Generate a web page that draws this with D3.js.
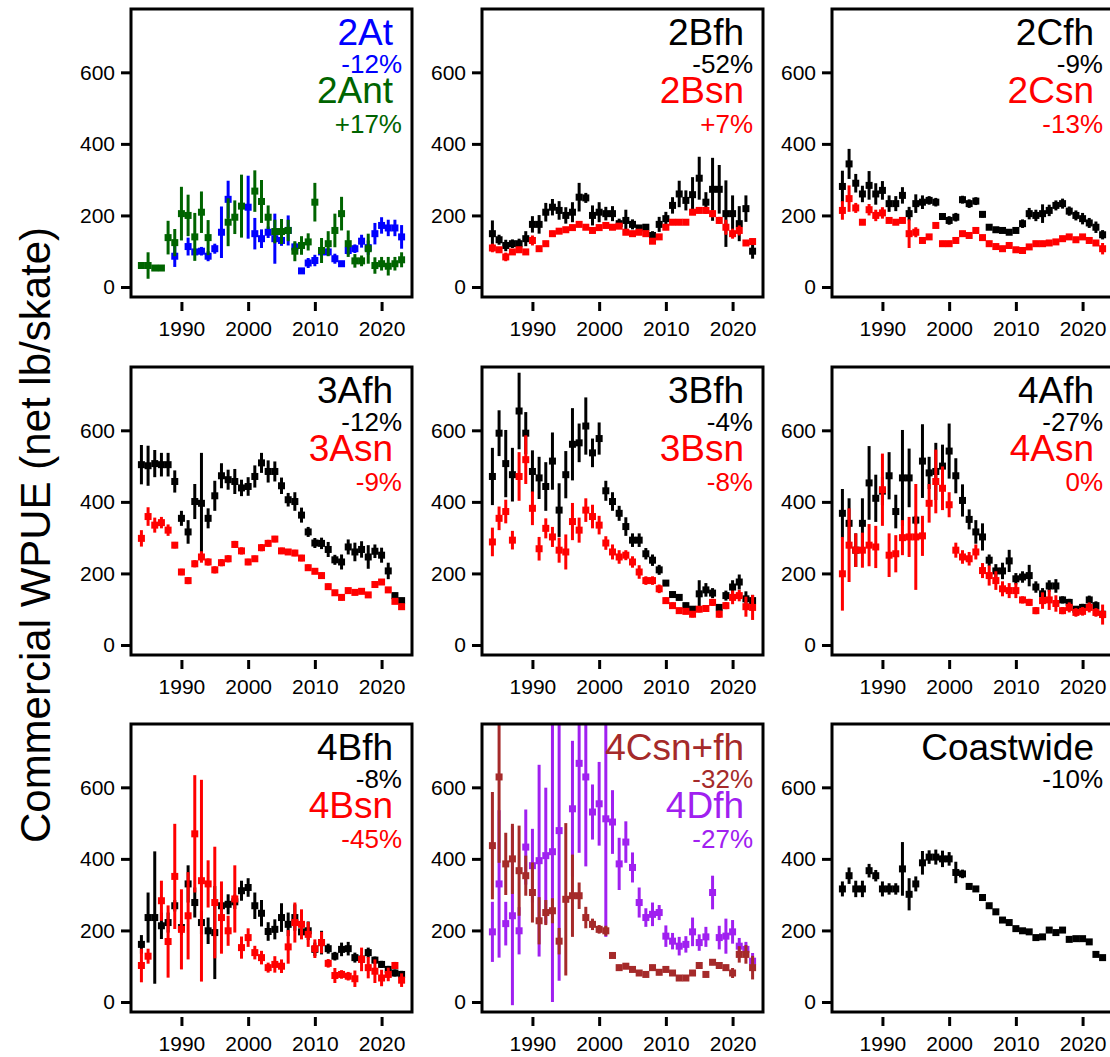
<!DOCTYPE html>
<html>
<head>
<meta charset="utf-8">
<script src="https://cdn.jsdelivr.net/npm/d3@7"></script>
<style>
  body { margin: 0; background: #fff; }
  text { font-family: "Liberation Sans", Arial, sans-serif; }
</style>
</head>
<body>
<script>
// Years on the x axis
const years = [1984,1985,1986,1987,1988,1989,1990,1991,1992,1993,1994,1995,1996,1997,1998,1999,
    2000,2001,2002,2003,2004,2005,2006,2007,2008,2009,2010,2011,2012,2013,2014,2015,2016,2017,2018,2019,
    2020,2021,2022,2023];

// WPUE index (net lb/skate) and half width of the interval
const wpue2At = [null,null,null,null,null,86,null,113,98,100,86,107,153,245,null,null,223,149,135,153,135,130,158,112,45,67,74,98,98,79,65,102,107,128,110,149,172,165,165,140];
const ci2At = [null,null,null,null,null,30,null,25,8,12,14,14,72,52,null,null,88,44,26,16,70,15,42,12,8,14,16,12,10,14,8,12,12,18,20,30,23,23,23,33];
const wpue2Ant = [60,60,53,53,138,124,205,200,140,209,138,null,null,181,195,226,null,268,239,195,155,155,158,100,116,126,237,102,121,158,205,121,73,73,107,60,65,58,65,76];
const ci2Ant = [8,37,6,6,47,38,75,58,67,58,49,null,null,67,47,88,null,58,60,33,33,35,30,28,26,24,54,35,35,47,47,37,19,15,42,23,19,26,19,21];

const wpue2Bfh = [149,132,116,121,121,135,175,175,209,223,214,200,209,251,249,200,209,205,205,177,186,175,165,167,144,175,191,228,260,242,258,304,237,273,273,205,205,177,219,100];
const ci2Bfh = [37,14,16,12,14,21,23,26,26,23,26,23,28,40,14,28,28,19,21,14,30,14,7,9,12,21,19,23,37,28,49,60,28,88,68,93,51,49,37,21];
const wpue2Bsn = [109,104,84,98,104,98,130,107,121,149,156,160,166,175,167,158,166,172,167,170,153,149,153,149,128,140,167,181,181,181,209,214,214,205,186,167,149,158,123,127];
const ci2Bsn = [12,8,12,8,8,8,14,8,8,8,8,8,8,8,8,8,8,8,8,8,8,8,8,8,8,8,8,8,8,8,8,8,10,10,10,21,14,14,8,8];

const wpue2Cfh = [281,344,290,260,284,260,270,233,233,256,205,233,237,242,237,197,186,195,244,233,240,203,167,160,158,153,158,177,205,200,205,214,228,233,212,200,191,179,167,146];
const ci2Cfh = [44,42,26,23,40,30,26,23,21,23,19,26,19,12,12,9,12,12,11,12,11,9,7,7,7,7,7,12,16,16,26,16,14,14,13,14,16,14,16,13];
const wpue2Csn = [214,247,221,181,216,200,207,186,181,186,149,153,130,140,172,121,121,130,149,144,158,138,121,113,107,116,104,102,112,121,121,123,126,135,140,132,140,130,123,107];
const ci2Csn = [26,37,14,8,16,16,16,8,8,8,40,14,8,8,8,8,8,8,8,8,8,8,8,8,8,8,8,8,8,8,8,8,8,8,8,8,8,8,8,16];

const wpue3Afh = [504,501,507,504,504,457,354,316,401,396,354,417,473,462,457,439,443,471,509,485,485,445,406,401,363,316,285,284,267,238,232,274,260,267,246,262,251,207,138,124];
const ci3Afh = [55,56,38,33,33,31,21,33,49,141,28,42,35,28,35,23,26,31,28,31,28,23,19,26,21,14,14,16,21,14,21,21,26,23,33,19,21,23,8,8];
const wpue3Asn = [298,359,335,342,321,279,204,180,227,246,232,210,230,241,281,263,232,241,272,284,296,263,260,257,243,216,206,194,163,146,133,152,147,150,140,169,176,154,122,107];
const ci3Asn = [23,26,21,16,16,9,9,10,10,16,10,10,10,10,10,10,9,9,10,10,9,9,8,9,9,9,8,9,9,8,9,8,8,8,8,8,8,8,8,9];

const wpue3Bfh = [471,592,507,476,654,592,485,467,443,514,377,476,561,565,612,537,577,431,401,368,331,293,293,255,237,210,173,141,133,110,100,143,154,145,105,138,162,176,129,124];
const ci3Bfh = [80,64,94,75,107,59,59,59,68,80,75,66,101,54,80,40,45,28,26,21,26,19,19,16,16,14,8,8,8,8,8,38,19,14,8,14,19,21,21,16];
const wpue3Bsn = [288,354,373,293,471,518,382,269,326,302,265,260,345,321,377,359,335,285,260,246,251,232,204,180,180,157,124,110,96,94,86,100,102,119,86,110,133,138,107,105];
const ci3Bsn = [40,33,33,26,68,68,47,33,28,28,35,49,52,35,33,33,26,19,21,19,14,16,19,12,12,12,9,9,8,8,9,9,9,10,10,10,19,16,28,35];

const wpue4Afh = [368,340,265,340,453,410,430,473,373,467,467,349,514,481,485,500,542,473,404,351,316,302,237,207,207,235,185,190,194,162,143,165,165,126,119,100,105,126,110,86];
const ci4Afh = [68,70,47,70,103,66,40,66,47,134,82,12,103,45,80,60,77,49,45,28,33,38,16,19,23,31,16,16,30,16,16,16,19,10,10,9,10,12,12,12];
const wpue4Asn = [199,279,265,265,279,274,434,251,255,300,302,302,305,396,457,438,392,265,246,241,260,208,194,180,157,152,152,126,119,96,124,126,116,96,105,91,94,105,91,85];
const ci4Asn = [103,103,47,49,59,59,101,61,52,49,56,148,56,54,89,61,35,21,19,19,21,21,28,26,21,21,21,10,10,10,23,28,23,10,14,12,12,14,12,28];

const wpue4Bfh = [161,236,236,213,222,269,208,330,278,222,199,194,269,273,280,311,320,269,248,197,203,236,217,236,196,199,147,166,149,128,147,149,124,120,138,117,105,91,81,77];
const ci4Bfh = [26,70,185,37,28,16,20,52,42,33,37,130,45,28,20,28,26,37,37,26,28,40,33,37,19,26,19,33,14,12,19,19,14,12,14,10,10,10,10,10];
const wpue4Bsn = [102,128,null,283,169,351,203,241,470,339,330,278,236,199,288,152,180,138,124,96,105,100,154,222,217,189,149,166,108,74,77,72,65,119,96,86,67,77,102,61];
const ci4Bsn = [47,21,null,56,101,147,112,122,164,282,66,156,101,42,94,31,26,19,19,14,23,19,47,56,42,35,26,30,12,21,12,12,23,33,30,33,23,19,10,19];

const wpue4Csnfh = [437,629,386,400,367,353,306,227,250,255,170,287,297,297,236,217,203,199,130,96,100,91,81,77,96,83,91,81,67,67,81,102,77,111,102,96,81,133,133,96];
const ci4Csnfh = [150,240,87,98,126,56,84,66,35,35,37,213,115,37,30,16,12,14,8,8,8,8,8,8,8,8,8,8,8,8,8,8,8,8,8,8,14,23,26,33];
const wpue4Dfh = [196,330,219,241,199,433,381,395,409,420,479,null,540,667,629,531,554,512,503,386,447,376,278,236,245,250,184,170,156,161,196,166,182,306,180,184,196,156,147,114];
const ci4Dfh = [84,206,61,250,66,105,103,268,190,420,420,null,190,250,250,77,117,330,89,73,58,42,42,26,33,21,30,23,26,23,40,23,28,47,33,49,33,23,21,23];

const wpueCoast = [316,353,316,316,367,353,316,316,316,372,301,330,389,405,405,400,400,362,358,323,316,292,269,252,229,222,205,199,196,180,182,201,194,201,175,177,177,168,133,124];
const ciCoast = [21,23,23,23,19,16,21,16,16,75,45,21,33,19,21,23,19,30,12,8,8,8,8,8,8,7,7,7,7,7,7,8,7,7,7,7,7,7,7,7];

// Panel labels and percent change
const panelNames = [["2At","2Ant"],["2Bfh","2Bsn"],["2Cfh","2Csn"],["3Afh","3Asn"],["3Bfh","3Bsn"],
    ["4Afh","4Asn"],["4Bfh","4Bsn"],["4Csn+fh","4Dfh"],["Coastwide"]];
const panelPct = [["-12%","+17%"],["-52%","+7%"],["-9%","-13%"],["-12%","-9%"],["-4%","-8%"],
    ["-27%","0%"],["-8%","-45%"],["-32%","-27%"],["-10%"]];
const xTicks = [1990, 2000, 2010, 2020];
const yTicks = [0, 200, 400, 600];

const blue = '#0000ff', green = '#006400', red = '#ff0000', brown = '#a52a2a', purple = '#a020f0';

// Series per panel, in drawing order (last one ends up on top)
const panels = [
    {colors: [blue, green], series: [{v: wpue2At, ci: ci2At, c: blue}, {v: wpue2Ant, ci: ci2Ant, c: green}]},
    {colors: ['#000', red], series: [{v: wpue2Bfh, ci: ci2Bfh, c: '#000'}, {v: wpue2Bsn, ci: ci2Bsn, c: red}]},
    {colors: ['#000', red], series: [{v: wpue2Cfh, ci: ci2Cfh, c: '#000'}, {v: wpue2Csn, ci: ci2Csn, c: red}]},
    {colors: ['#000', red], series: [{v: wpue3Afh, ci: ci3Afh, c: '#000'}, {v: wpue3Asn, ci: ci3Asn, c: red}]},
    {colors: ['#000', red], series: [{v: wpue3Bfh, ci: ci3Bfh, c: '#000'}, {v: wpue3Bsn, ci: ci3Bsn, c: red}]},
    {colors: ['#000', red], series: [{v: wpue4Afh, ci: ci4Afh, c: '#000'}, {v: wpue4Asn, ci: ci4Asn, c: red}]},
    {colors: ['#000', red], series: [{v: wpue4Bfh, ci: ci4Bfh, c: '#000'}, {v: wpue4Bsn, ci: ci4Bsn, c: red}]},
    {colors: [brown, purple], series: [{v: wpue4Dfh, ci: ci4Dfh, c: purple}, {v: wpue4Csnfh, ci: ci4Csnfh, c: brown}]},
    {colors: ['#000'], series: [{v: wpueCoast, ci: ciCoast, c: '#000'}]}
];

// Layout
const W = 1110, H = 1057,
    colLeft = [131, 482, 832],
    rowTop = [9, 367, 724],
    pw = 281, ph = 288,
    pt = 7;   // point size

const svg = d3.select('body').append('svg')
    .attr('width', W)
    .attr('height', H);

const x = d3.scaleLinear().domain([1982.44, 2024.56]).range([0, pw]);
const y = d3.scaleLinear().domain([-28, 777]).range([ph, 0]);

panels.forEach((p, i) => {
    let g = svg.append('g')
        .attr('transform', 'translate(' + colLeft[i % 3] + ',' + rowTop[Math.floor(i / 3)] + ')');

    g.append('clipPath')
        .attr('id', 'clip' + i)
        .append('rect')
        .attr('width', pw)
        .attr('height', ph);

    let plot = g.append('g').attr('clip-path', 'url(#clip' + i + ')');

    p.series.forEach(s => {
        let pts = years.map((yr, j) => ({yr: yr, v: s.v[j], ci: s.ci[j] || 0}))
            .filter(d => d.v != null);

        let sg = plot.append('g');
        sg.selectAll('line').data(pts).enter().append('line')
            .attr('x1', d => x(d.yr))
            .attr('x2', d => x(d.yr))
            .attr('y1', d => y(d.v - d.ci))
            .attr('y2', d => y(d.v + d.ci))
            .attr('stroke', s.c)
            .attr('stroke-width', 3);

        sg.selectAll('rect').data(pts).enter().append('rect')
            .attr('x', d => x(d.yr) - pt / 2)
            .attr('y', d => y(d.v) - pt / 2)
            .attr('width', pt)
            .attr('height', pt)
            .attr('fill', s.c);
    });

    // Box
    g.append('rect')
        .attr('width', pw)
        .attr('height', ph)
        .attr('fill', 'none')
        .attr('stroke', '#000')
        .attr('stroke-width', 3);

    // Axes
    let yAxis = g.append('g')
        .call(d3.axisLeft(y).tickValues(yTicks).tickSize(10).tickSizeOuter(0).tickPadding(6));
    let xAxis = g.append('g')
        .attr('transform', 'translate(0,' + (ph + 5) + ')')
        .call(d3.axisBottom(x).tickValues(xTicks).tickFormat(d3.format('d')).tickSize(9).tickSizeOuter(0).tickPadding(10));

    [yAxis, xAxis].forEach(a => {
        a.select('.domain').remove();
        a.selectAll('line').attr('stroke', '#000').attr('stroke-width', 3);
        a.selectAll('text')
            .attr('fill', '#000')
            .style('font-size', '21px')
            .style('font-family', '"Liberation Sans", Arial, sans-serif');
    });

    // Panel labels
    p.colors.forEach((c, k) => {
        g.append('text')
            .attr('x', pw - 19)
            .attr('y', 36 + k * 58)
            .attr('text-anchor', 'end')
            .attr('fill', c)
            .style('font-size', '37px')
            .text(panelNames[i][k]);

        g.append('text')
            .attr('x', pw - 10)
            .attr('y', 64 + k * 60)
            .attr('text-anchor', 'end')
            .attr('fill', c)
            .style('font-size', '26px')
            .text(panelPct[i][k]);
    });
});

// Shared y axis title
svg.append('text')
    .attr('transform', 'translate(50,535) rotate(-90)')
    .attr('text-anchor', 'middle')
    .style('font-size', '42px')
    .text('Commercial WPUE (net lb/skate)');
</script>
</body>
</html>
